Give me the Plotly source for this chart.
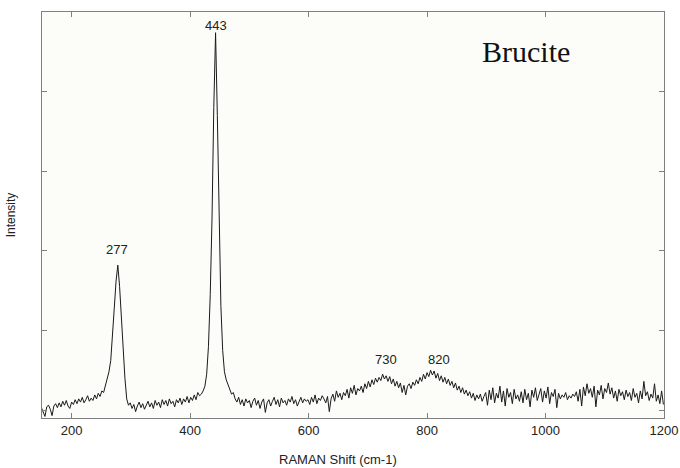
import plotly.graph_objects as go

# Raman shift grid (cm-1), sampled every 3 cm-1 from 149 to 1199
shift = list(range(149, 1200, 3))

# Intensity (arbitrary units)
intensity = [
    0.03, -0.02, -0.08, 0.04, 0.06, 0.01, -0.07, 0.05, 0.08, 0.03,   # 149-176
    0.09, 0.04, 0.11, 0.06, 0.12, 0.05, 0.02, 0.10, 0.07, 0.13,      # 179-206
    0.08, 0.14, 0.10, 0.16, 0.09, 0.13, 0.18, 0.11, 0.15, 0.12,      # 209-236
    0.19, 0.14, 0.21, 0.17, 0.24, 0.22, 0.30, 0.38, 0.48, 0.62,      # 239-266
    0.90, 1.28, 1.62, 1.82, 1.55, 1.15, 0.78, 0.40, 0.14, 0.06,      # 269-296
    0.09, 0.02, 0.07, -0.02, 0.05, 0.10, 0.03, 0.08, 0.01, 0.06,     # 299-326
    0.11, 0.04, 0.09, 0.02, 0.12, 0.06, 0.10, 0.03, 0.13, 0.07,      # 329-356
    0.12, 0.05, 0.14, 0.08, 0.11, 0.04, 0.13, 0.09, 0.15, 0.07,      # 359-386
    0.14, 0.10, 0.17, 0.09, 0.16, 0.12, 0.19, 0.13, 0.22, 0.18,      # 389-416
    0.20, 0.24, 0.30, 0.45, 0.80, 1.45, 2.40, 3.80, 4.74, 3.70,      # 419-446
    2.30, 1.30, 0.75, 0.48, 0.38, 0.32, 0.26, 0.20, 0.22, 0.14,      # 449-476
    0.10, 0.16, 0.07, 0.13, 0.05, 0.14, 0.09, 0.12, 0.03, 0.11,      # 479-506
    0.15, 0.06, 0.12, 0.02, 0.10, 0.14, -0.03, 0.09, 0.13, 0.05,     # 509-536
    0.11, 0.16, 0.07, 0.13, 0.04, 0.15, 0.09, 0.12, 0.06, 0.14,      # 539-566
    0.10, 0.17, 0.08, 0.13, 0.05, 0.12, 0.16, 0.09, 0.14, 0.11,      # 569-596
    0.13, 0.07, 0.16, 0.10, 0.19, 0.08, 0.15, 0.12, 0.18, 0.14,      # 599-626
    0.09, 0.17, -0.02, 0.14, 0.20, 0.11, 0.24, 0.16, 0.21, 0.13,     # 629-656
    0.22, 0.18, 0.26, 0.15, 0.28, 0.21, 0.31, 0.19, 0.27, 0.24,      # 659-686
    0.30, 0.22, 0.33, 0.27, 0.36, 0.29, 0.38, 0.32, 0.40, 0.35,      # 689-716
    0.41, 0.37, 0.45, 0.39, 0.43, 0.36, 0.42, 0.33, 0.39, 0.30,      # 719-746
    0.36, 0.28, 0.34, 0.22, 0.31, 0.19, 0.30, 0.33, 0.27, 0.35,      # 749-776
    0.31, 0.38, 0.33, 0.41, 0.36, 0.45, 0.39, 0.47, 0.42, 0.50,      # 779-806
    0.44, 0.49, 0.40, 0.46, 0.37, 0.43, 0.35, 0.41, 0.33, 0.39,      # 809-836
    0.31, 0.36, 0.28, 0.34, 0.25, 0.30, 0.22, 0.28, 0.20, 0.25,      # 839-866
    0.18, 0.23, 0.15, 0.21, 0.12, 0.19, 0.14, 0.20, 0.11, 0.17,      # 869-896
    0.22, 0.06, 0.25, 0.13, 0.28, 0.09, 0.21, 0.15, 0.30, 0.10,      # 899-926
    0.24, 0.05, 0.27, 0.16, 0.22, 0.08, 0.26, 0.14, 0.19, 0.11,      # 929-956
    0.23, 0.09, 0.26, 0.13, 0.21, 0.04, 0.25, 0.16, 0.28, 0.12,      # 959-986
    0.20, 0.27, 0.10, 0.24, 0.15, 0.29, 0.08, 0.22, 0.17, 0.26,      # 989-1016
    0.03, 0.21, 0.14, 0.19, 0.16, 0.22, 0.13, 0.18, 0.15, 0.20,      # 1019-1046
    0.17, 0.23, 0.11, 0.26, 0.05, 0.29, 0.18, 0.33, 0.21, 0.27,      # 1049-1076
    0.16, 0.30, 0.04, 0.25, 0.19, 0.31, 0.14, 0.27, 0.22, 0.34,      # 1079-1106
    0.20, 0.28, 0.15, 0.24, 0.11, 0.26, 0.18, 0.23, 0.13, 0.25,      # 1109-1136
    0.17, 0.22, 0.12, 0.27, 0.16, 0.21, 0.09, 0.24, 0.14, 0.36,      # 1139-1166
    0.18, 0.23, 0.12, 0.20, 0.15, 0.33, 0.11, 0.19, 0.08, 0.24,      # 1169-1196
    0.07,                                                            # 1199
]

# Peak labels
peak_labels = ["277", "443", "730", "820"]
peak_x = [277, 443, 730, 820]
peak_y = [1.82, 4.74, 0.44, 0.44]
label_gap = [6, -2, 6, 6]

x_ticks = [200, 400, 600, 800, 1000, 1200]

fig = go.Figure()
fig.add_trace(go.Scatter(
    x=shift, y=intensity, mode="lines",
    line=dict(color="#1a1a1a", width=1),
    showlegend=False, hoverinfo="skip",
))

for lbl, px, py, gap in zip(peak_labels, peak_x, peak_y, label_gap):
    fig.add_annotation(
        x=px, y=py, text=lbl, showarrow=False,
        xanchor="center", yanchor="bottom", yshift=gap,
        font=dict(family="Liberation Sans, Arial", size=13, color="#222222"),
    )

fig.add_annotation(
    xref="paper", yref="paper", x=0.778, y=0.903,
    text="Brucite", showarrow=False, xanchor="center", yanchor="middle",
    font=dict(family="Liberation Serif, Times New Roman", size=30, color="#111111"),
)

fig.add_annotation(
    xref="paper", yref="paper", x=0.476, y=-0.103,
    text="RAMAN Shift (cm-1)", showarrow=False, xanchor="center", yanchor="middle",
    font=dict(family="Liberation Sans, Arial", size=13, color="#222222"),
)

axis_common = dict(
    showline=True, linecolor="#7f7f7f", linewidth=1, mirror="ticks",
    ticks="inside", ticklen=5, tickcolor="#7f7f7f", tickwidth=1,
    showgrid=False, zeroline=False,
)

fig.update_xaxes(
    range=[150, 1200], tickvals=x_ticks,
    tickfont=dict(family="Liberation Sans, Arial", size=13, color="#222222"),
    **axis_common,
)
fig.update_yaxes(
    range=[-0.1, 5.0], tickvals=[0, 1, 2, 3, 4, 5], showticklabels=False,
    title=dict(text="Intensity", standoff=22,
               font=dict(family="Liberation Sans, Arial", size=12, color="#222222")),
    **axis_common,
)

fig.update_layout(
    width=680, height=468,
    margin=dict(l=42, r=16, t=12, b=50, autoexpand=False),
    paper_bgcolor="#ffffff", plot_bgcolor="#fcfcf9",
)

fig.write_html(
    "out.html",
    config={"displayModeBar": False},
    post_script="document.body.style.margin='0';document.body.style.overflow='hidden';",
)
